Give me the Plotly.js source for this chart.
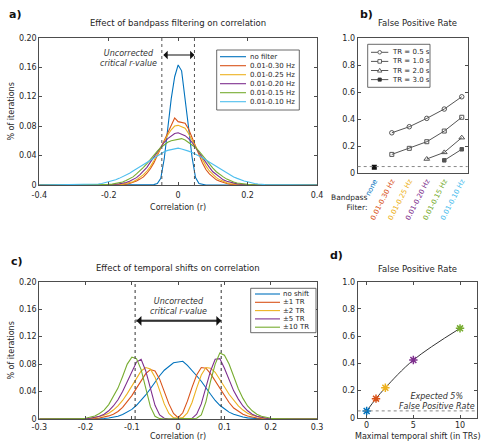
<!DOCTYPE html>
<html>
<head>
<meta charset="utf-8">
<script src="https://cdn.plot.ly/plotly-3.0.1.min.js"></script>
<style>
  html, body { margin: 0; padding: 0; background: #fff; }
  #chart { width: 482px; height: 441px; }
</style>
</head>
<body>
<div id="chart"></div>
<script>
// ---------- a) correlation histograms for each bandpass filter ----------
const rA = [-0.40,-0.25,-0.24,-0.23,-0.22,-0.21,-0.20,-0.19,-0.18,-0.17,-0.16,-0.15,-0.14,-0.13,-0.12,-0.11,-0.10,-0.09,-0.08,-0.07,-0.06,-0.05,-0.04,-0.03,-0.02,-0.01,
            0.00,0.01,0.02,0.03,0.04,0.05,0.06,0.07,0.08,0.09,0.10,0.11,0.12,0.13,0.14,0.15,0.16,0.17,0.18,0.19,0.20,0.21,0.22,0.23,0.24,0.25,0.40];
const noFilter = [0,
  0,0,0,0,0,0,0,0,0,0,0,0,0,0,0,0,0,0,0.0005,0.002,0.009,0.036,0.075,0.117,0.147,
  0.163,
  0.155,0.120,0.078,0.038,0.010,0.002,0.0005,0,0,0,0,0,0,0,0,0,0,0,0,0,0,0,0,0,0,
  0];
const bp030 = [0,
  0,0,0,0,0,0.0001,0.0001,0.0002,0.0003,0.0006,0.001,0.002,0.0035,0.0055,0.008,0.011,0.016,0.022,0.030,0.040,0.051,0.062,0.072,0.080,0.091,
  0.086,
  0.085,0.084,0.076,0.064,0.052,0.041,0.030,0.021,0.015,0.011,0.007,0.005,0.003,0.002,0.001,0.0006,0.0003,0.0001,0.0001,0,0,0,0,0,0,
  0];
const bp025 = [0,
  0,0,0,0,0.0001,0.0001,0.0002,0.0004,0.0007,0.0012,0.002,0.003,0.0045,0.007,0.010,0.014,0.019,0.025,0.033,0.042,0.051,0.060,0.068,0.075,0.080,
  0.081,
  0.079,0.077,0.070,0.061,0.052,0.043,0.034,0.026,0.019,0.014,0.010,0.007,0.0045,0.003,0.002,0.0012,0.0007,0.0004,0.0002,0.0001,0.0001,0,0,0,0,
  0];
const bp020 = [0,
  0,0,0,0.0001,0.0002,0.0003,0.0006,0.001,0.0015,0.0023,0.0035,0.005,0.0075,0.010,0.014,0.019,0.024,0.031,0.038,0.045,0.052,0.058,0.063,0.067,0.070,
  0.071,
  0.069,0.067,0.063,0.058,0.051,0.044,0.037,0.030,0.024,0.018,0.014,0.010,0.007,0.005,0.0035,0.0023,0.0015,0.001,0.0006,0.0003,0.0002,0.0001,0,0,0,
  0];
const bp015 = [0,
  0,0.0001,0.0002,0.0003,0.0005,0.0008,0.0012,0.0019,0.0028,0.004,0.006,0.008,0.011,0.015,0.019,0.024,0.029,0.035,0.041,0.046,0.051,0.055,0.058,0.060,0.061,
  0.062,
  0.063,0.061,0.058,0.055,0.051,0.046,0.040,0.034,0.028,0.023,0.018,0.014,0.011,0.008,0.0055,0.004,0.0028,0.0019,0.0012,0.0008,0.0005,0.0003,0.0002,0.0001,0,
  0];
const bp010 = [0,
  0.0005,0.0008,0.0013,0.002,0.003,0.004,0.0055,0.007,0.009,0.011,0.013,0.016,0.019,0.022,0.025,0.028,0.031,0.034,0.037,0.040,0.043,0.045,0.047,0.048,0.049,
  0.050,
  0.049,0.048,0.046,0.044,0.042,0.040,0.037,0.034,0.031,0.028,0.025,0.022,0.019,0.016,0.014,0.011,0.009,0.007,0.0055,0.0045,0.003,0.002,0.0013,0.0008,0.0005,
  0];
const filterNames  = ['no filter','0.01-0.30 Hz','0.01-0.25 Hz','0.01-0.20 Hz','0.01-0.15 Hz','0.01-0.10 Hz'];
const filterSeries = [noFilter, bp030, bp025, bp020, bp015, bp010];
const critRA = 0.047;

// ---------- b) false positive rate per filter and TR ----------
const bandLabels = ['none','0.01-0.30 Hz','0.01-0.25 Hz','0.01-0.20 Hz','0.01-0.15 Hz','0.01-0.10 Hz'];
const fprNone = [0.045, null, null, null, null, null];
const fprTR05 = [null, 0.300, 0.345, 0.407, 0.476, 0.567];
const fprTR10 = [null, 0.140, 0.185, 0.234, 0.313, 0.415];
const fprTR20 = [null, null, null, 0.106, 0.155, 0.264];
const fprTR30 = [null, null, null, null, 0.096, 0.178];
const trNames = ['TR = 0.5 s','TR = 1.0 s','TR = 2.0 s','TR = 3.0 s'];

// ---------- c) correlation histograms for temporal shifts ----------
const rC = [-0.30,-0.25,-0.24,-0.23,-0.22,-0.21,-0.20,-0.19,-0.18,-0.17,-0.16,-0.15,-0.14,-0.13,-0.12,-0.11,-0.10,-0.09,-0.08,-0.07,-0.06,-0.05,-0.04,-0.03,-0.02,-0.01,
            0.00,0.01,0.02,0.03,0.04,0.05,0.06,0.07,0.08,0.09,0.10,0.11,0.12,0.13,0.14,0.15,0.16,0.17,0.18,0.19,0.20,0.21,0.22,0.23,0.24,0.25,0.30];
const noShift = [0,
  0,0,0,0,0,0,0.0001,0.0002,0.0004,0.0008,0.0015,0.0025,0.004,0.0065,0.010,0.014,0.020,0.027,0.035,0.044,0.054,0.063,0.071,0.077,0.082,
  0.083,
  0.084,0.078,0.071,0.063,0.055,0.045,0.036,0.027,0.020,0.015,0.010,0.007,0.0045,0.0028,0.0016,0.0008,0.0004,0.0002,0.0001,0,0,0,0,0,0,
  0];
const shift1 = [0,
  0,0,0,0,0,0.0002,0.0004,0.0008,0.0015,0.0027,0.0045,0.007,0.011,0.017,0.025,0.034,0.045,0.056,0.066,0.072,0.070,0.058,0.040,0.022,0.008,
  0.002,
  0.009,0.026,0.046,0.064,0.075,0.074,0.066,0.055,0.044,0.033,0.024,0.016,0.011,0.007,0.0043,0.0026,0.0015,0.0008,0.0004,0.0002,0,0,0,0,0,
  0];
const shift2 = [0,
  0,0,0,0,0.0002,0.0005,0.001,0.002,0.0033,0.0055,0.0085,0.013,0.019,0.027,0.037,0.048,0.060,0.070,0.075,0.073,0.061,0.042,0.022,0.008,0.002,
  0.001,
  0.002,0.009,0.024,0.045,0.064,0.075,0.074,0.068,0.058,0.047,0.036,0.027,0.019,0.013,0.0085,0.0055,0.0033,0.002,0.001,0.0005,0.0002,0,0,0,0,
  0];
const shift5 = [0,
  0,0,0,0,0.0002,0.0005,0.0011,0.0022,0.004,0.007,0.012,0.019,0.028,0.040,0.054,0.070,0.083,0.087,0.070,0.045,0.020,0.006,0.001,0,0,
  0,
  0,0,0.001,0.007,0.022,0.046,0.070,0.087,0.088,0.074,0.056,0.041,0.029,0.019,0.012,0.007,0.004,0.002,0.001,0.0004,0.0002,0,0,0,0,
  0];
const shift10 = [0,
  0,0,0.0001,0.0003,0.0006,0.0012,0.0025,0.0045,0.008,0.013,0.021,0.032,0.045,0.062,0.080,0.090,0.088,0.072,0.045,0.018,0.004,0.0005,0,0,0,
  0,
  0,0,0,0.001,0.006,0.025,0.055,0.080,0.096,0.093,0.080,0.062,0.044,0.030,0.019,0.012,0.007,0.004,0.002,0.001,0.0005,0.0002,0.0001,0,0,
  0];
const shiftNames  = ['no shift','\u00b11 TR','\u00b12 TR','\u00b15 TR','\u00b110 TR'];
const shiftSeries = [noShift, shift1, shift2, shift5, shift10];
const critRC = 0.093;

// ---------- d) false positive rate vs. maximal shift ----------
const shiftTRs = [0, 1, 2, 5, 10];
const shiftFPR = [0.049, 0.140, 0.220, 0.424, 0.657];
const expectedFPR = 0.05;

// ---------- tick labels ----------
const pctTicks   = [0, 0.04, 0.08, 0.12, 0.16, 0.20];
const pctLabels  = ['0','0.04','0.08','0.12','0.16','0.20'];
const corrTicksA = [-0.4, -0.2, 0, 0.2, 0.4];
const corrLabelsA = ['-0.4','-0.2','0','0.2','0.4'];
const corrTicksC = [-0.3, -0.2, -0.1, 0, 0.1, 0.2, 0.3];
const corrLabelsC = ['-0.3','-0.2','-0.1','0','0.1','0.2','0.3'];
const rateTicks  = [0, 0.2, 0.4, 0.6, 0.8, 1.0];
const rateLabels = ['0','0.2','0.4','0.6','0.8','1.0'];
const shiftTicks = [0, 5, 10];

// ---------- styling ----------
const palette = ['#0072BD','#D95319','#EDB120','#7E2F8E','#77AC30','#4DBEEE'];
const FONT = 'DejaVu Sans, sans-serif';
const TXT = '#262626';
const FRAME = '#4d4d4d';
const W = 482, H = 441;
const px = v => v / W;
const py = v => 1 - v / H;

const traces = [];

filterSeries.forEach((s, i) => traces.push({
  type: 'scatter', mode: 'lines', x: rA, y: s, xaxis: 'x', yaxis: 'y',
  line: { color: palette[i], width: 1.1 }, name: filterNames[i], showlegend: false, hoverinfo: 'skip'
}));

const trStyles = [
  { symbol: 'circle-open', size: 4.5 },
  { symbol: 'square-open', size: 4 },
  { symbol: 'triangle-up-open', size: 5 },
  { symbol: 'square', size: 3.5 }
];
[fprTR05, fprTR10, fprTR20, fprTR30].forEach((s, i) => traces.push({
  type: 'scatter', mode: 'lines+markers', x: bandLabels, y: s, xaxis: 'x2', yaxis: 'y2',
  line: { color: '#555', width: 1 },
  marker: { symbol: trStyles[i].symbol, size: trStyles[i].size, color: '#555', line: { color: '#555', width: 1 } },
  name: trNames[i], showlegend: false, hoverinfo: 'skip'
}));
traces.push({
  type: 'scatter', mode: 'markers', x: bandLabels, y: fprNone, xaxis: 'x2', yaxis: 'y2',
  marker: { symbol: 'square', size: 5, color: '#111' }, showlegend: false, hoverinfo: 'skip'
});

shiftSeries.forEach((s, i) => traces.push({
  type: 'scatter', mode: 'lines', x: rC, y: s, xaxis: 'x3', yaxis: 'y3',
  line: { color: palette[i], width: 1.1 }, name: shiftNames[i], showlegend: false, hoverinfo: 'skip'
}));

traces.push({
  type: 'scatter', mode: 'lines', x: shiftTRs, y: shiftFPR, xaxis: 'x4', yaxis: 'y4',
  line: { color: '#333', width: 1, shape: 'spline', smoothing: 1 }, showlegend: false, hoverinfo: 'skip'
});
traces.push({
  type: 'scatter', mode: 'markers', x: shiftTRs, y: shiftFPR, xaxis: 'x4', yaxis: 'y4',
  marker: { symbol: 'asterisk-open', size: 7, color: palette.slice(0, 5), line: { width: 1.5 } },
  showlegend: false, hoverinfo: 'skip'
});

const tickFont = { family: FONT, size: 8, color: TXT };
const titleFont = { family: FONT, size: 8, color: TXT };
function axis(extra) {
  return Object.assign({
    showline: true, linecolor: FRAME, linewidth: 1, mirror: 'ticks',
    ticks: 'inside', ticklen: 3, tickcolor: FRAME, tickwidth: 1,
    showgrid: false, zeroline: false, tickfont: tickFont, fixedrange: true
  }, extra);
}

const layout = {
  width: W, height: H,
  margin: { l: 0, r: 0, t: 0, b: 0 },
  paper_bgcolor: '#fff', plot_bgcolor: '#fff',
  font: { family: FONT, size: 8, color: TXT },
  showlegend: false,
  xaxis: axis({ domain: [px(39.3), px(317)], anchor: 'y', range: [-0.4, 0.4],
    tickmode: 'array', tickvals: corrTicksA, ticktext: corrLabelsA, ticklabelstandoff: 2,
    title: { text: 'Correlation (r)', font: titleFont, standoff: 5 } }),
  yaxis: axis({ domain: [py(185), py(37.7)], anchor: 'x', range: [0, 0.2],
    tickmode: 'array', tickvals: pctTicks, ticktext: pctLabels,
    title: { text: '% of iterations', font: titleFont, standoff: 3 } }),
  xaxis2: axis({ domain: [px(357.7), px(467.7)], anchor: 'y2', type: 'category',
    range: [-0.95, 5.34], ticks: '', mirror: true, tickangle: -63,
    tickfont: { family: FONT, size: 7, color: TXT },
    tickmode: 'array', tickvals: bandLabels,
    ticktext: bandLabels.map((t, i) => '<span style="color:' + palette[i] + '">' + t + '</span>') }),
  yaxis2: axis({ domain: [py(173.3), py(38.3)], anchor: 'x2', range: [0, 1],
    tickmode: 'array', tickvals: rateTicks, ticktext: rateLabels }),
  xaxis3: axis({ domain: [px(39.3), px(317)], anchor: 'y3', range: [-0.3, 0.3],
    tickmode: 'array', tickvals: corrTicksC, ticktext: corrLabelsC, ticklabelstandoff: 0 }),
  yaxis3: axis({ domain: [py(419), py(281.7)], anchor: 'x3', range: [0, 0.2],
    tickmode: 'array', tickvals: pctTicks, ticktext: pctLabels,
    title: { text: '% of iterations', font: titleFont, standoff: 3 } }),
  xaxis4: axis({ domain: [px(357.7), px(477.3)], anchor: 'y4', range: [-0.96, 11.85],
    tickmode: 'array', tickvals: shiftTicks, ticktext: shiftTicks.map(String), ticklabelstandoff: 0 }),
  yaxis4: axis({ domain: [py(417.7), py(281.7)], anchor: 'x4', range: [0, 1],
    tickmode: 'array', tickvals: rateTicks, ticktext: rateLabels }),
  shapes: [],
  annotations: []
};

const S = layout.shapes, A = layout.annotations;

// lower x-axis titles sit at the bottom edge of the figure
A.push({ xref: 'x3 domain', yref: 'paper', x: 0.5, y: py(436.3), xanchor: 'center', yanchor: 'middle',
  showarrow: false, borderpad: 0, text: 'Correlation (r)', font: titleFont });
A.push({ xref: 'x4 domain', yref: 'paper', x: 0.5, y: py(436.3), xanchor: 'center', yanchor: 'middle',
  showarrow: false, borderpad: 0, text: 'Maximal temporal shift (in TRs)', font: titleFont });

// critical r-value markers
[-critRA, critRA].forEach(v => S.push({ type: 'line', xref: 'x', yref: 'y domain', x0: v, x1: v, y0: 0, y1: 1,
  line: { color: '#555', width: 1, dash: 'dot' } }));
[-critRC, critRC].forEach(v => S.push({ type: 'line', xref: 'x3', yref: 'y3 domain', x0: v, x1: v, y0: 0, y1: 1,
  line: { color: '#333', width: 1, dash: 'dot' } }));
S.push({ type: 'line', xref: 'x3', yref: 'y3', x0: -critRC, x1: critRC, y0: 0.143, y1: 0.143,
  line: { color: '#777', width: 2.5 } });

// expected 5% reference lines
S.push({ type: 'line', xref: 'x2 domain', yref: 'y2', x0: 0, x1: 1, y0: expectedFPR, y1: expectedFPR,
  line: { color: '#888', width: 1, dash: 'dot' } });
S.push({ type: 'line', xref: 'x4 domain', yref: 'y4', x0: 0, x1: 1, y0: expectedFPR, y1: expectedFPR,
  line: { color: '#888', width: 1, dash: 'dot' } });

// double-headed arrows
A.push({ xref: 'x', yref: 'y', axref: 'x', ayref: 'y', x: critRA, y: 0.1765, ax: -critRA, ay: 0.1765,
  text: '', showarrow: true, arrowhead: 1, startarrowhead: 1, arrowside: 'end+start',
  arrowsize: 1.2, arrowwidth: 1.2, arrowcolor: '#111', standoff: 0, startstandoff: 0 });
A.push({ xref: 'x3', yref: 'y3', axref: 'x3', ayref: 'y3', x: critRC, y: 0.143, ax: -critRC, ay: 0.143,
  text: '', showarrow: true, arrowhead: 1, startarrowhead: 1, arrowside: 'end+start',
  arrowsize: 1.6, arrowwidth: 1, arrowcolor: '#111', standoff: 0, startstandoff: 0 });

const italic = { family: FONT, size: 8, color: '#333' };
A.push({ xref: 'x', yref: 'y', x: -0.144, y: 0.172, xanchor: 'center', yanchor: 'middle', showarrow: false, align: 'center',
  text: '<i>Uncorrected</i><br><i>critical r-value</i>', font: italic });
A.push({ xref: 'x3', yref: 'y3', x: 0, y: 0.164, xanchor: 'center', yanchor: 'middle', showarrow: false, align: 'center',
  text: '<i>Uncorrected</i><br><i>critical r-value</i>', font: italic });
A.push({ xref: 'paper', yref: 'paper', x: px(437), y: py(401.2), xanchor: 'center', yanchor: 'middle',
  showarrow: false, align: 'center',
  text: '<i>Expected 5%</i><br><i>False Positive Rate</i>', font: italic });

// panel titles and letters
const ttl = { family: FONT, size: 8.5, color: TXT };
[['Effect of bandpass filtering on correlation', 178, 22.7],
 ['False Positive Rate', 417.8, 23.3],
 ['Effect of temporal shifts on correlation', 178, 268.3],
 ['False Positive Rate', 417.7, 269.3]].forEach(([t, x, y]) =>
  A.push({ xref: 'paper', yref: 'paper', x: px(x), y: py(y), xanchor: 'center', yanchor: 'middle',
    showarrow: false, text: t, font: ttl }));
[['a)', 14.5, 14.5], ['b)', 366.7, 14.5], ['c)', 16.8, 261.7], ['d)', 336.8, 255.7]].forEach(([t, x, y]) =>
  A.push({ xref: 'paper', yref: 'paper', x: px(x), y: py(y), xanchor: 'center', yanchor: 'middle',
    showarrow: false, text: '<b>' + t + '</b>', font: { family: FONT, size: 11, color: '#111' } }));

A.push({ xref: 'paper', yref: 'paper', x: px(370), y: py(202.5), xanchor: 'right', yanchor: 'middle',
  showarrow: false, align: 'right', text: 'Bandpass<br>Filter:', font: { family: FONT, size: 7.5, color: TXT } });

// legend boxes drawn from the series names and colours
function legendBox(x0, y0, x1, y1) {
  S.push({ type: 'rect', xref: 'paper', yref: 'paper', x0: px(x0), x1: px(x1), y0: py(y1), y1: py(y0),
    line: { color: '#444', width: 0.8 }, fillcolor: '#fff', layer: 'above' });
}
const legFont = { family: FONT, size: 7, color: TXT };
legendBox(216.7, 50, 299.3, 110);
filterNames.forEach((n, i) => {
  const y = 56.7 + 9 * i;
  S.push({ type: 'line', xref: 'paper', yref: 'paper', x0: px(220), x1: px(246), y0: py(y), y1: py(y),
    line: { color: palette[i], width: 1.1 }, layer: 'above' });
  A.push({ xref: 'paper', yref: 'paper', x: px(247.5), y: py(y), xanchor: 'left', yanchor: 'middle',
    showarrow: false, text: n, font: legFont });
});
legendBox(250.7, 288.3, 316, 332.7);
shiftNames.forEach((n, i) => {
  const y = 294 + 8.3 * i;
  S.push({ type: 'line', xref: 'paper', yref: 'paper', x0: px(255), x1: px(280), y0: py(y), y1: py(y),
    line: { color: palette[i], width: 1.1 }, layer: 'above' });
  A.push({ xref: 'paper', yref: 'paper', x: px(281), y: py(y), xanchor: 'left', yanchor: 'middle',
    showarrow: false, text: n, font: legFont });
});
legendBox(367.7, 44.3, 430, 87.3);
trNames.forEach((n, i) => {
  const y = 52.3 + 9.1 * i, cx = 379.7;
  S.push({ type: 'line', xref: 'paper', yref: 'paper', x0: px(371), x1: px(388.3), y0: py(y), y1: py(y),
    line: { color: '#555', width: 1 }, layer: 'above' });
  const r = 1.8;
  if (i === 0) S.push({ type: 'circle', xref: 'paper', yref: 'paper', x0: px(cx - r), x1: px(cx + r), y0: py(y + r), y1: py(y - r),
    line: { color: '#555', width: 0.9 }, fillcolor: '#fff', layer: 'above' });
  if (i === 1) S.push({ type: 'rect', xref: 'paper', yref: 'paper', x0: px(cx - r), x1: px(cx + r), y0: py(y + r), y1: py(y - r),
    line: { color: '#555', width: 0.9 }, fillcolor: '#fff', layer: 'above' });
  if (i === 2) S.push({ type: 'path', xref: 'paper', yref: 'paper',
    path: 'M' + px(cx - 2.2) + ',' + py(y + 1.6) + ' L' + px(cx + 2.2) + ',' + py(y + 1.6) + ' L' + px(cx) + ',' + py(y - 2.2) + ' Z',
    line: { color: '#555', width: 0.9 }, fillcolor: '#fff', layer: 'above' });
  if (i === 3) S.push({ type: 'rect', xref: 'paper', yref: 'paper', x0: px(cx - 1.6), x1: px(cx + 1.6), y0: py(y + 1.6), y1: py(y - 1.6),
    line: { color: '#333', width: 0.8 }, fillcolor: '#333', layer: 'above' });
  A.push({ xref: 'paper', yref: 'paper', x: px(390), y: py(y), xanchor: 'left', yanchor: 'middle',
    showarrow: false, text: n, font: legFont });
});

Plotly.newPlot('chart', traces, layout, { staticPlot: true, displayModeBar: false });
</script>
</body>
</html>
